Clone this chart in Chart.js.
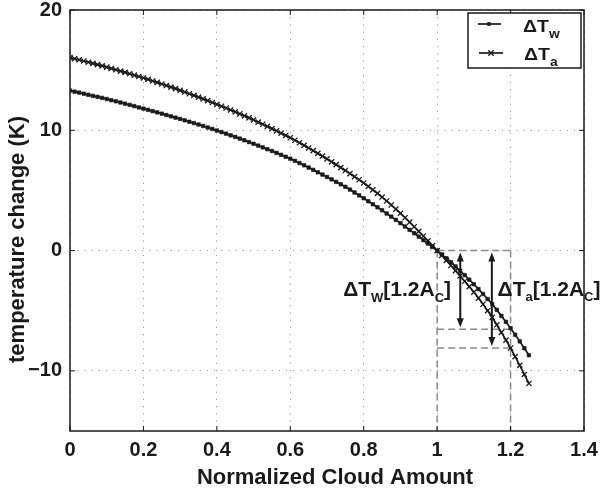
<!DOCTYPE html>
<html>
<head>
<meta charset="utf-8">
<script src="https://cdn.jsdelivr.net/npm/chart.js@4"></script>
<style>
html,body{margin:0;padding:0;background:#fff;}
#wrap{width:602px;height:492px;}
</style>
</head>
<body>
<div id="wrap"><canvas id="c" width="602" height="492"></canvas></div>
<script>
// ---- data ----
const cloudAmount = [0,0.0125,0.025,0.0375,0.05,0.0625,0.075,0.0875,0.1,0.1125,0.125,0.1375,0.15,0.1625,0.175,0.1875,0.2,0.2125,0.225,0.2375,0.25,0.2625,0.275,0.2875,0.3,0.3125,0.325,0.3375,0.35,0.3625,0.375,0.3875,0.4,0.4125,0.425,0.4375,0.45,0.4625,0.475,0.4875,0.5,0.5125,0.525,0.5375,0.55,0.5625,0.575,0.5875,0.6,0.6125,0.625,0.6375,0.65,0.6625,0.675,0.6875,0.7,0.7125,0.725,0.7375,0.75,0.7625,0.775,0.7875,0.8,0.8125,0.825,0.8375,0.85,0.8625,0.875,0.8875,0.9,0.9125,0.925,0.9375,0.95,0.9625,0.975,0.9875,1,1.0125,1.025,1.0375,1.05,1.0625,1.075,1.0875,1.1,1.1125,1.125,1.1375,1.15,1.1625,1.175,1.1875,1.2,1.2125,1.225,1.2375,1.25];
const dTw = [13.30,13.21,13.13,13.04,12.95,12.86,12.78,12.69,12.60,12.50,12.41,12.31,12.21,12.11,12.01,11.90,11.80,11.70,11.59,11.49,11.38,11.27,11.16,11.05,10.94,10.83,10.71,10.60,10.48,10.36,10.23,10.11,9.98,9.85,9.72,9.58,9.45,9.31,9.17,9.02,8.88,8.73,8.58,8.43,8.28,8.12,7.96,7.80,7.64,7.46,7.28,7.09,6.90,6.71,6.51,6.32,6.12,5.92,5.71,5.51,5.30,5.07,4.83,4.59,4.35,4.10,3.85,3.60,3.35,3.08,2.82,2.55,2.28,2.00,1.72,1.44,1.16,0.87,0.58,0.29,0.00,-0.32,-0.64,-0.97,-1.32,-1.68,-2.04,-2.42,-2.80,-3.20,-3.61,-4.03,-4.45,-4.93,-5.43,-5.93,-6.45,-7.00,-7.55,-8.12,-8.70];
const dTa = [16.05,15.95,15.86,15.76,15.66,15.56,15.46,15.35,15.25,15.14,15.03,14.92,14.81,14.70,14.58,14.47,14.35,14.23,14.10,13.98,13.85,13.72,13.59,13.46,13.32,13.18,13.04,12.90,12.76,12.61,12.46,12.31,12.16,12.00,11.85,11.69,11.53,11.36,11.20,11.03,10.86,10.68,10.50,10.32,10.14,9.95,9.76,9.57,9.38,9.17,8.96,8.75,8.53,8.31,8.08,7.85,7.62,7.38,7.14,6.90,6.66,6.40,6.15,5.89,5.62,5.34,5.05,4.75,4.45,4.12,3.79,3.45,3.10,2.73,2.36,1.98,1.60,1.21,0.81,0.41,0.00,-0.41,-0.82,-1.24,-1.67,-2.11,-2.55,-3.00,-3.45,-3.95,-4.46,-5.00,-5.55,-6.17,-6.80,-7.44,-8.10,-8.82,-9.55,-10.30,-11.05];
const xTicks = [0,0.2,0.4,0.6,0.8,1,1.2,1.4];
const yTicks = [-10,0,10,20];
const refX = [1.0, 1.2];          // dashed verticals
const refLevels = [0, -6.55, -8.1]; // dashed horizontals
const arrowX = [1.063, 1.149];
const arrowTop = [0, 0];
const arrowBottom = [-6.55, -8.1];
const yMin = -15, yMax = 20;
const xTitle = 'Normalized Cloud Amount';
const yTitle = 'temperature change (K)';

const FONT = '"Liberation Sans", Arial, Helvetica, sans-serif';
const INK = '#1a1a1a';

const pts = arr => cloudAmount.map((x,i)=>({x:x, y:arr[i]}));
const refSets = [];
refX.forEach(xv => refSets.push([{x:xv,y:refLevels[0]},{x:xv,y:yMin}]));
refLevels.forEach(lv => refSets.push([{x:refX[0],y:lv},{x:refX[1],y:lv}]));

const datasets = [
  {data: pts(dTw), showLine:true, borderColor:INK, borderWidth:1.7, pointStyle:'rect', pointRadius:2.5, pointBackgroundColor:INK, pointBorderColor:INK, pointBorderWidth:0.6},
  {data: pts(dTa), showLine:true, borderColor:INK, borderWidth:1.7, pointStyle:'crossRot', pointRadius:3.7, pointBorderColor:INK, pointBorderWidth:1.3}
];
refSets.forEach(d => datasets.push({data:d, showLine:true, borderColor:'#8a8a8a', borderWidth:1.5, borderDash:[7,4], pointRadius:0}));

function rich(ctx, x, y, segs, big, small, sub, sx) {
  let cx = x;
  segs.forEach(([t, isSub]) => {
    ctx.font = 'bold ' + (isSub ? small : big) + 'px ' + FONT;
    const w = ctx.measureText(t).width * sx;
    ctx.save();
    ctx.translate(cx, isSub ? y + sub : y);
    ctx.scale(sx, 1);
    ctx.fillText(t, 0, 0);
    ctx.restore();
    cx += w;
  });
}

const noPad = s => { s.paddingTop = 0; s.paddingBottom = 0; s.paddingLeft = 0; s.paddingRight = 0; };

const extras = {
  id: 'extras',
  afterDatasetsDraw(chart) {
    const {ctx, scales:{x, y}} = chart;
    ctx.save();
    ctx.strokeStyle = INK; ctx.fillStyle = INK; ctx.lineWidth = 2;
    const head = (px, py, dir) => {
      ctx.beginPath();
      ctx.moveTo(px, py);
      ctx.lineTo(px - 3.5, py + dir * 9);
      ctx.lineTo(px + 3.5, py + dir * 9);
      ctx.closePath(); ctx.fill();
    };
    arrowX.forEach((xv, i) => {
      const px = x.getPixelForValue(xv);
      const y1 = y.getPixelForValue(arrowTop[i]) + 2;
      const y2 = y.getPixelForValue(arrowBottom[i]) - 2;
      ctx.beginPath(); ctx.moveTo(px, y1 + 6); ctx.lineTo(px, y2 - 6); ctx.stroke();
      head(px, y1, 1); head(px, y2, -1);
    });
    ctx.textBaseline = 'alphabetic'; ctx.textAlign = 'left';
    const y0 = y.getPixelForValue(0);
    rich(ctx, x.getPixelForValue(refX[0]) - 94, y0 + 45,
      [['\u0394T', false], ['W', true], ['[1.2A', false], ['C', true], [']', false]], 21, 13, 6, 1);
    rich(ctx, x.getPixelForValue(refX[1]) - 13, y0 + 45,
      [['\u0394T', false], ['a', true], ['[1.2A', false], ['C', true], [']', false]], 21, 13, 5, 1);
    ctx.restore();
  },
  afterDraw(chart) {
    const {ctx, chartArea:a, scales:{x, y}} = chart;
    ctx.save();
    ctx.strokeStyle = INK; ctx.lineWidth = 1.5;
    ctx.strokeRect(a.left, a.top, a.right - a.left, a.bottom - a.top);
    ctx.lineWidth = 1;
    ctx.beginPath();
    xTicks.forEach(v => { const p = x.getPixelForValue(v);
      ctx.moveTo(p, a.bottom); ctx.lineTo(p, a.bottom - 5);
      ctx.moveTo(p, a.top); ctx.lineTo(p, a.top + 5); });
    yTicks.forEach(v => { const p = y.getPixelForValue(v);
      ctx.moveTo(a.left, p); ctx.lineTo(a.left + 5, p);
      ctx.moveTo(a.right, p); ctx.lineTo(a.right - 5, p); });
    ctx.stroke();
    // axis titles
    ctx.fillStyle = INK;
    ctx.font = 'bold 22px ' + FONT;
    ctx.textAlign = 'center'; ctx.textBaseline = 'alphabetic';
    ctx.fillText(xTitle, (a.left + a.right) / 2 + 8, 484);
    ctx.save();
    ctx.translate(24, (a.top + a.bottom) / 2 + 19);
    ctx.rotate(-Math.PI / 2);
    ctx.fillText(yTitle, 0, 0);
    ctx.restore();
    // legend
    const L = 468, T = 13, R = 581, B = 68;
    ctx.fillStyle = '#fff';
    ctx.fillRect(L, T, R - L, B - T);
    ctx.strokeStyle = INK; ctx.lineWidth = 1.5;
    ctx.strokeRect(L, T, R - L, B - T);
    ctx.lineWidth = 1.7;
    ctx.beginPath(); ctx.moveTo(478, 24); ctx.lineTo(501, 24); ctx.stroke();
    ctx.fillStyle = INK; ctx.fillRect(487.2, 22.2, 3.6, 3.6);
    ctx.beginPath(); ctx.moveTo(479, 53); ctx.lineTo(503, 53); ctx.stroke();
    ctx.lineWidth = 1.4;
    ctx.beginPath(); ctx.moveTo(488.3, 50.3); ctx.lineTo(493.7, 55.7); ctx.moveTo(493.7, 50.3); ctx.lineTo(488.3, 55.7); ctx.stroke();
    ctx.textBaseline = 'alphabetic'; ctx.textAlign = 'left';
    rich(ctx, 523, 32, [['\u0394T', false], ['w', true]], 17, 12, 6, 1.15);
    rich(ctx, 524, 60, [['\u0394T', false], ['a', true]], 17, 12, 6, 1.15);
    ctx.restore();
  }
};

new Chart(document.getElementById('c'), {
  type: 'scatter',
  data: {datasets},
  plugins: [extras],
  options: {
    responsive: false,
    animation: false,
    devicePixelRatio: 1,
    layout: {padding: {top: 10, right: 18, left: 0, bottom: 0}},
    plugins: {legend: {display: false}, tooltip: {enabled: false}},
    scales: {
      x: {
        type: 'linear', min: 0, max: 1.4,
        afterBuildTicks: s => { s.ticks = xTicks.map(v => ({value: v})); },
        afterFit: s => { s.height = 61; noPad(s); },
        grid: {color: '#a0a0a0', lineWidth: 1, drawTicks: false},
        border: {display: false, dash: [1.2, 6]},
        ticks: {padding: 9, color: INK, autoSkip: false, maxRotation: 0,
          font: {family: FONT, size: 20, weight: 'bold', lineHeight: 1},
          callback: v => String(Math.round(v * 10) / 10)},
        title: {display: false}
      },
      y: {
        type: 'linear', min: yMin, max: yMax,
        afterBuildTicks: s => { s.ticks = yTicks.map(v => ({value: v})); },
        afterFit: s => { s.width = 70; noPad(s); },
        grid: {color: '#a0a0a0', lineWidth: 1, drawTicks: false},
        border: {display: false, dash: [1.2, 6]},
        ticks: {padding: 8, color: INK,
          font: {family: FONT, size: 20, weight: 'bold', lineHeight: 1},
          callback: v => v < 0 ? '\u2212' + Math.abs(v) : String(v)},
        title: {display: false}
      }
    }
  }
});
</script>
</body>
</html>
